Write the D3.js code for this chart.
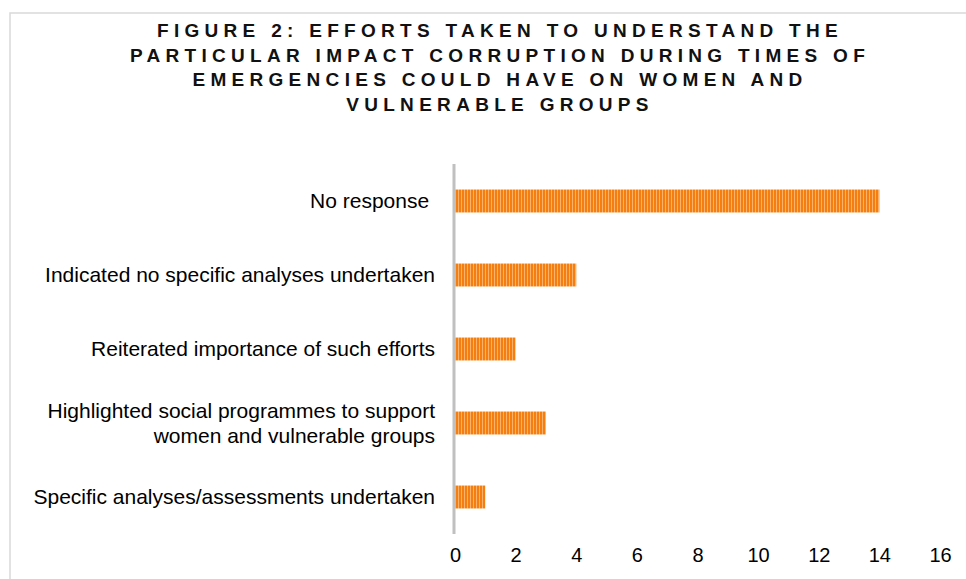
<!DOCTYPE html>
<html>
<head>
<meta charset="utf-8">
<script src="https://cdn.jsdelivr.net/npm/d3@7"></script>
<style>
  body { margin: 0; background: #fff; }
  svg text { font-family: "Liberation Sans", Arial, sans-serif; }
</style>
</head>
<body>
<svg id="chart"></svg>
<script>
// DATA
const titleLines = [
    'FIGURE 2: EFFORTS TAKEN TO UNDERSTAND THE',
    'PARTICULAR IMPACT CORRUPTION DURING TIMES OF',
    'EMERGENCIES COULD HAVE ON WOMEN AND',
    'VULNERABLE GROUPS'
];
const categories = [
    ['No response '],
    ['Indicated no specific analyses undertaken'],
    ['Reiterated importance of such efforts'],
    ['Highlighted social programmes to support', 'women and vulnerable groups'],
    ['Specific analyses/assessments undertaken']
];
const values = [14, 4, 2, 3, 1];
const xTicks = [0, 2, 4, 6, 8, 10, 12, 14, 16];

const width = 966, height = 579;
const margin = { left: 455, right: 26, top: 164, bottom: 45 };

const svg = d3.select('#chart')
    .attr('width', width)
    .attr('height', height);

// stripe pattern for the bars
const defs = svg.append('defs');
const pat = defs.append('pattern')
    .attr('id', 'stripes')
    .attr('patternUnits', 'userSpaceOnUse')
    .attr('width', 3)
    .attr('height', 10);
pat.append('rect').attr('width', 3).attr('height', 10).attr('fill', '#f47f10');
pat.append('rect').attr('x', 2).attr('width', 1).attr('height', 10).attr('fill', '#fab26a');

// chart area border
svg.append('rect')
    .attr('x', 10).attr('y', 13)
    .attr('width', 980).attr('height', 600)
    .attr('fill', 'none')
    .attr('stroke', '#d9d9d9')
    .attr('stroke-width', 1.5);

// TITLE
svg.append('g').selectAll('text')
    .data(titleLines)
    .enter().append('text')
    .attr('x', 500)
    .attr('y', (d, i) => 37 + i * 24.5)
    .attr('text-anchor', 'middle')
    .style('font-weight', 'bold')
    .style('font-size', '19px')
    .style('letter-spacing', '5.3px')
    .attr('fill', '#111')
    .text(d => d);

// SCALES
const x = d3.scaleLinear()
    .domain([0, 16])
    .range([margin.left, width - margin.right]);

const y = d3.scaleBand()
    .domain(d3.range(categories.length))
    .range([margin.top, height - margin.bottom])
    .paddingInner(0.69)
    .paddingOuter(0.345);

// BARS
svg.append('g').selectAll('rect')
    .data(values)
    .enter().append('rect')
    .attr('x', x(0))
    .attr('y', (d, i) => y(i))
    .attr('width', d => x(d) - x(0))
    .attr('height', y.bandwidth())
    .attr('fill', 'url(#stripes)');

// X AXIS (labels only)
const xAxis = svg.append('g')
    .attr('transform', `translate(0, ${height - margin.bottom})`)
    .call(d3.axisBottom(x).tickValues(xTicks).tickSize(0).tickPadding(14));
xAxis.select('.domain').remove();
xAxis.selectAll('text')
    .style('font-size', '20px')
    .attr('fill', '#000');

// Y AXIS LINE
svg.append('line')
    .attr('x1', x(0) - 1).attr('x2', x(0) - 1)
    .attr('y1', margin.top).attr('y2', height - margin.bottom)
    .attr('stroke', '#c0c0c0')
    .attr('stroke-width', 3);

// CATEGORY LABELS
const labels = svg.append('g').selectAll('text')
    .data(categories)
    .enter().append('text')
    .attr('text-anchor', 'end')
    .style('font-size', '21px')
    .style('white-space', 'pre')
    .attr('fill', '#000');

labels.each(function(lines, i) {
    const cy = y(i) + y.bandwidth() / 2;
    const lh = 25;
    const top = cy - (lines.length - 1) * lh / 2;
    d3.select(this).selectAll('tspan')
        .data(lines)
        .enter().append('tspan')
        .attr('x', 435)
        .attr('y', (d, j) => top + j * lh)
        .attr('dy', '0.35em')
        .text(d => d);
});
</script>
</body>
</html>
